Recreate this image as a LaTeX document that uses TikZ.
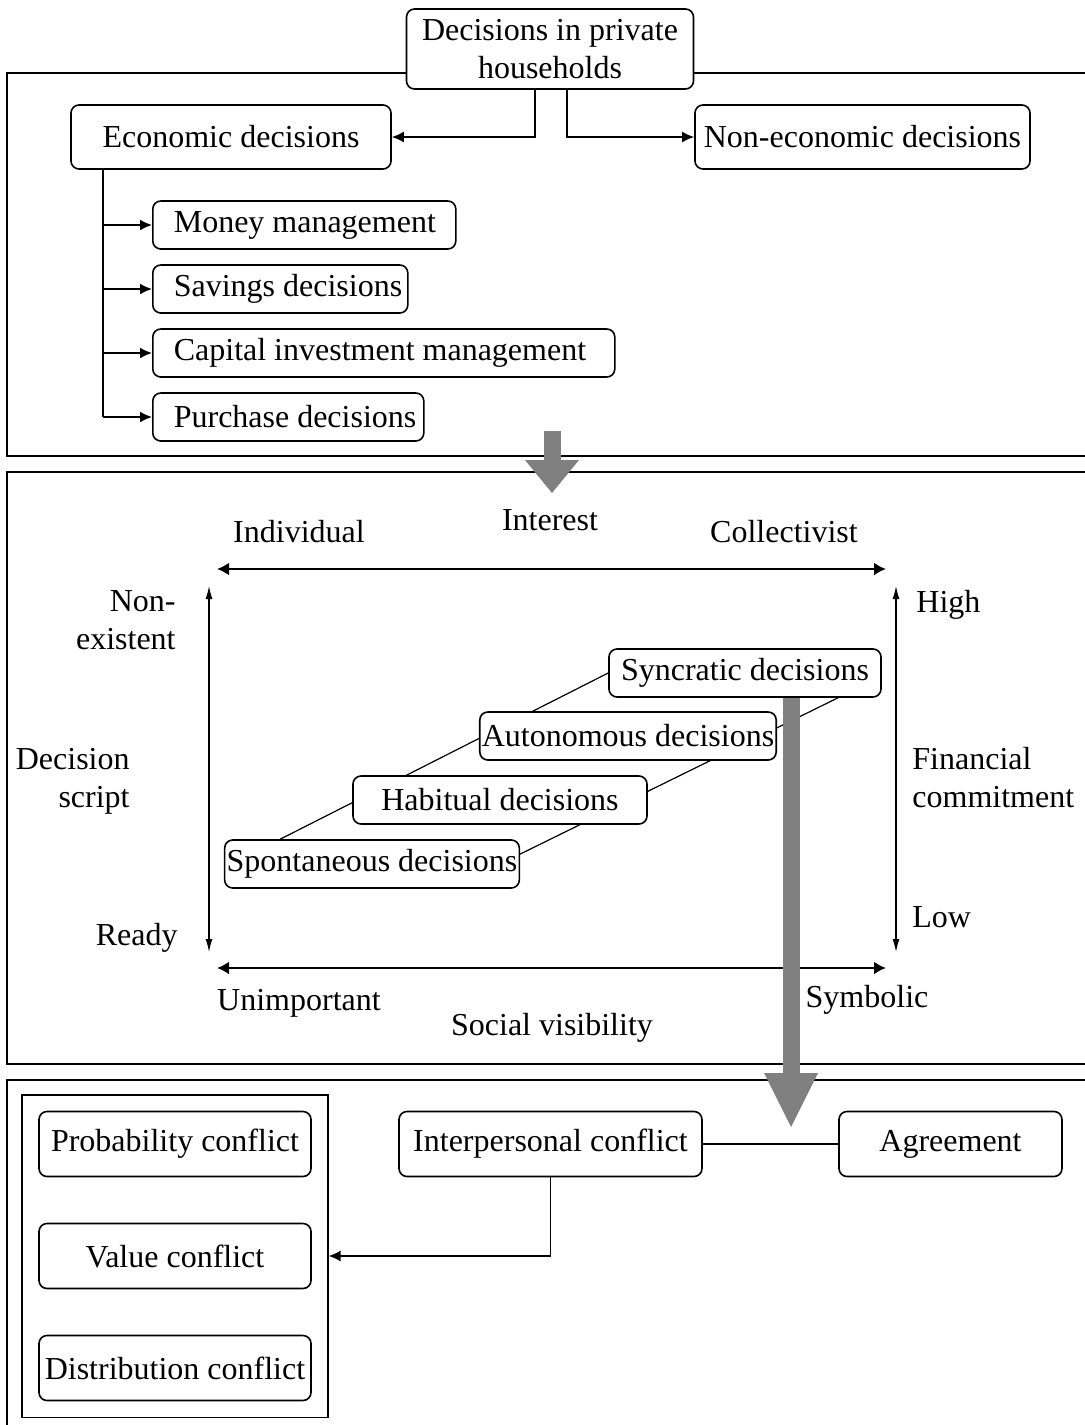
\documentclass[tikz,border=0pt]{standalone}
\usepackage{fontspec}
\setmainfont{Liberation Serif}
\usetikzlibrary{arrows.meta,calc,fit,backgrounds}

\tikzset{
  box/.style={draw, rounded corners=4pt, fill=white, line width=0.8pt, inner sep=1pt, align=center},
  leaf/.style={box, anchor=west, minimum height=24pt, text width=#1, inner xsep=0pt, align=flush left, execute at begin node=\hspace*{10.5pt}},
  stair/.style={box, minimum width=#1, minimum height=24pt},
  conflict/.style={box, minimum width=#1, minimum height=32.5pt},
  lbl/.style={inner sep=0pt},
  conn/.style={line width=0.8pt, -{Latex[length=6pt,width=5.5pt]}},
  panel/.style={line width=0.9pt},
  axis/.style={line width=1.2pt, {Latex[length=6pt,width=6.5pt]}-{Latex[length=6pt,width=6.5pt]}},
  vaxis/.style={line width=0.6pt, {Latex[length=6.5pt,width=3.5pt]}-{Latex[length=6.5pt,width=3.5pt]}},
  flow/.style={draw=gray, line width=8.5pt, -{Triangle[length=#1,width=27pt,line width=0pt]}}
}

\begin{document}
\begin{tikzpicture}[x=0.5pt,y=0.5pt,yscale=-1,font=\fontsize{16}{19}\selectfont]
\useasboundingbox (0,0) rectangle (1085,1425);
\clip (0,0) rectangle (1085,1425);

%Panels
\draw[panel] (1100,73) -| (7,456) -- (1100,456);
\draw[panel] (1100,472) -| (7,1064) -- (1100,1064);
\draw[panel] (1100,1080) -| (7,1440);

%Top: decisions in households
\node[box, minimum width=143.5pt, minimum height=40pt] (root) at (550,49) {Decisions in private\\households};
\node[box, minimum width=160pt, minimum height=32pt] (econ) at (231,137) {Economic decisions};
\node[box, minimum width=167.5pt, minimum height=32pt] (nonecon) at (862.5,137) {Non-economic decisions};
\node[leaf=151.5pt] (money) at (152,225) {Money management};
\node[leaf=127.5pt] (savings) at (152,289) {Savings decisions};
\node[leaf=231pt] (capital) at (152,353) {Capital investment management};
\node[leaf=135.5pt] (purchase) at (152,417) {Purchase decisions};

\draw[conn] ([xshift=-7.5pt]root.south) |- (econ.east);
\draw[conn] ([xshift=8.5pt]root.south) |- (nonecon.west);
\coordinate (trunk) at ([xshift=16.5pt]econ.south west);
\draw[line width=0.8pt] (trunk) -- (trunk |- purchase.west);
\foreach \n in {money,savings,capital,purchase}
  \draw[conn] (trunk |- \n.west) -- (\n.west);

%Middle: decision space
\node[lbl] (indiv) at (299,532) {Individual};
\node[lbl] (interest) at (550,520) {Interest};
\node[lbl] (collect) at (784,532) {Collectivist};
\node[lbl, anchor=east, align=right] (nonex) at (176,620) {Non-\\existent};
\node[lbl, anchor=east, align=right] (decscript) at (130,781) {Decision\\script};
\node[lbl, anchor=east] (ready) at (178,938) {Ready};
\node[lbl, anchor=west] (high) at (916,605) {High};
\node[lbl, anchor=west, align=left] (fincom) at (912,778) {Financial\\commitment};
\node[lbl, anchor=west] (low) at (912,917) {Low};
\node[lbl] (unimp) at (299,1003) {Unimportant};
\node[lbl] (socvis) at (552,1028) {Social visibility};
\node[lbl] (symb) at (867,1000) {Symbolic};

\coordinate (ax1) at (217,569);
\coordinate (ax2) at (886,569);
\coordinate (ax3) at (217,968);
\coordinate (ax4) at (886,968);
\coordinate (ay1) at (209,586);
\coordinate (ay2) at (209,952);
\coordinate (ay3) at (896,586);
\coordinate (ay4) at (896,952);
\draw[axis] (ax1) -- (ax2);
\draw[axis] (ax3) -- (ax4);
\draw[vaxis] (ay1) -- (ay2);
\draw[vaxis] (ay3) -- (ay4);

\node[stair=136pt] (sync) at (745,673) {Syncratic decisions};
\node[stair=147pt] (autonom) at (628,736) {Autonomous decisions};
\node[stair=147pt] (habit) at (500,800) {Habitual decisions};
\node[stair=147pt] (spont) at (372,864) {Spontaneous decisions};
\begin{scope}[on background layer]
\draw[line width=0.6pt] ($(spont.north west)!0.19!(spont.north east)$) -- (sync.west);
\draw[line width=0.6pt] ($(spont.north east)!0.3!(spont.south east)$) -- ($(sync.south west)!0.84!(sync.south east)$);
\end{scope}

%Bottom: conflicts
\node[conflict=136pt] (prob) at (175,1144) {Probability conflict};
\node[conflict=136pt] (value) at (175,1256) {Value conflict};
\node[conflict=136pt] (distr) at (175,1368) {Distribution conflict};
\node[draw, line width=0.8pt, inner sep=8pt, fit=(prob)(distr)] (kinds) {};
\node[conflict=151.5pt] (inter) at (550.5,1144) {Interpersonal conflict};
\node[conflict=111.5pt] (agree) at (950.5,1144) {Agreement};
\draw[line width=0.8pt] (inter) -- (agree);
\draw[conn] (inter.south) |- (kinds.east);

%Flow arrows
\coordinate (f1a) at (552,431);
\coordinate (f1b) at (552,493);
\coordinate (f2b) at (791,1127);
\draw[flow=16.5pt] (f1a) -- (f1b);
\draw[flow=27pt] (sync.south -| f2b) -- (f2b);

\end{tikzpicture}
\end{document}
